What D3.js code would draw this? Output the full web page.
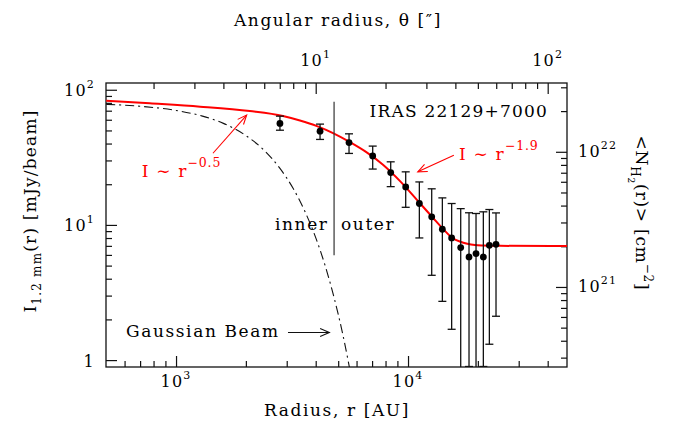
<!DOCTYPE html>
<html><head><meta charset="utf-8">
<script src="https://cdn.jsdelivr.net/npm/d3@7"></script>
<style>
html,body{margin:0;padding:0;background:#fff;}
svg{display:block;}
text{font-family:"DejaVu Serif",serif;}
</style></head><body>
<svg id="c" width="677" height="432"></svg>
<script>
// ---------- data ----------
const radiusAU   = [2805, 4176, 5568, 7043, 8421, 9772, 11190, 12650, 14060, 15420, 16870, 18320, 19640, 21120, 22420, 23950];
const intensity  = [56.4, 49.4, 40.7, 32.4, 24.4, 19.1, 14.4, 11.47, 9.29, 8.01, 6.80, 5.80, 6.14, 5.80, 7.07, 7.19];
const errUpper   = [63.8, 55.7, 47.2, 38.3, 29.3, 24.7, 20.8, 18.5, 15.85, 14.4, 13.2, 12.3, 12.15, 12.5, 13.0, 12.27];
const errLower   = [50.2, 42.9, 33.8, 25.9, 19.2, 13.5, 8.01, 4.24, 2.72, 1.69, 0, 0.89, 0, 0.89, 1.31, 2.11];

const modelRadius    = [500, 770, 1270, 2080, 2890, 3420, 4050, 4750, 5620, 6660, 7800, 9240, 10900, 12800, 14200, 15600, 16800, 18000, 19400, 21100, 24900, 48500];
const modelIntensity = [82.9, 79.3, 75.0, 69.5, 63.9, 59.2, 53.8, 47.8, 41.0, 34.3, 27.9, 21.1, 15.4, 11.3, 9.29, 7.97, 7.51, 7.26, 7.10, 7.04, 7.00, 6.99];

const beamRadius    = [500, 700, 1000, 1300, 1600, 2000, 2400, 2800, 3200, 3600, 4000, 4400, 4800, 5200, 5500, 5700];
const beamIntensity = [78.0, 75.5, 70.3, 63.8, 56.4, 45.8, 35.6, 26.3, 18.6, 12.5, 8.06, 4.95, 2.90, 1.63, 1.02, 0.74];

const bottomTickExp = [3, 4];
const topTickExp    = [1, 2];
const leftTickValues = [1, 10, 100];
const leftTickExp    = [null, 1, 2];
const rightTickExp   = [21, 22];

const distancePc   = 400;        // AU per arcsec
const columnFactor = 2.877e20;   // cm^-2 per mJy/beam
const innerOuterR  = 4800;

// ---------- layout ----------
const X0 = 106, X1 = 567, Y0 = 83, Y1 = 367;
const svg = d3.select("#c");

const x = d3.scaleLog().domain([499, 48450]).range([X0, X1]);
const y = d3.scaleLog().domain([0.889, 112.2]).range([Y1, Y0]);
const xTop = d3.scaleLog().domain(x.domain().map(d => d / distancePc)).range([X0, X1]);
const yRight = d3.scaleLog().domain(y.domain().map(d => d * columnFactor)).range([Y1, Y0]);

const isMajor = v => Math.abs(Math.log10(v) - Math.round(Math.log10(v))) < 1e-6;

svg.append("defs").append("clipPath").attr("id", "clip")
  .append("rect").attr("x", X0).attr("y", Y0).attr("width", X1 - X0).attr("height", Y1 - Y0);

// ---------- ticks ----------
function ticksFor(scale, axisFn, transform) {
  const [r0, r1] = scale.range().slice().sort((a, b) => a - b);
  const vals = scale.ticks().filter(v => { const p = scale(v); return p > r0 + 2 && p < r1 - 2; });
  const major = vals.filter(isMajor), minor = vals.filter(v => !isMajor(v));
  [[minor, 6], [major, 11]].forEach(([tv, len]) => {
    const g = svg.append("g").attr("transform", transform)
      .call(axisFn(scale).tickValues(tv).tickSize(-len).tickFormat(""));
    g.select(".domain").remove();
    g.selectAll("line").attr("stroke", "#111").attr("stroke-width", 1.2);
  });
}
ticksFor(x, d3.axisBottom, `translate(0,${Y1})`);
ticksFor(xTop, d3.axisTop, `translate(0,${Y0})`);
ticksFor(y, d3.axisLeft, `translate(${X0},0)`);
ticksFor(yRight, d3.axisRight, `translate(${X1},0)`);

svg.append("rect").attr("x", X0).attr("y", Y0).attr("width", X1 - X0).attr("height", Y1 - Y0)
  .attr("fill", "none").attr("stroke", "#111").attr("stroke-width", 1.3);

// ---------- tick labels ----------
function powLabel(sel, base, exp, supSize, supDy) {
  sel.append("tspan").text(base);
  if (exp !== null && exp !== undefined)
    sel.append("tspan").attr("dy", supDy).attr("font-size", supSize).text(exp);
}
const tickFont = 16, tickLs = 1.2;
bottomTickExp.forEach(e => {
  const t = svg.append("text").attr("x", x(Math.pow(10, e))).attr("y", 387)
    .attr("text-anchor", "middle").attr("font-size", tickFont).attr("letter-spacing", tickLs);
  powLabel(t, "10", e, 11, -8);
});
topTickExp.forEach(e => {
  const t = svg.append("text").attr("x", xTop(Math.pow(10, e))).attr("y", 66)
    .attr("text-anchor", "middle").attr("font-size", tickFont).attr("letter-spacing", tickLs);
  powLabel(t, "10", e, 11, -8);
});
leftTickValues.forEach((v, i) => {
  const t = svg.append("text").attr("x", 95).attr("y", y(v) + 6.5)
    .attr("text-anchor", "end").attr("font-size", tickFont).attr("letter-spacing", tickLs);
  if (leftTickExp[i] === null) t.text(String(v));
  else powLabel(t, "10", leftTickExp[i], 11, -8);
});
rightTickExp.forEach(e => {
  const t = svg.append("text").attr("x", 578).attr("y", yRight(Math.pow(10, e)) + 5)
    .attr("text-anchor", "start").attr("font-size", tickFont).attr("letter-spacing", tickLs);
  powLabel(t, "10", e, 11, -8);
});

// ---------- axis titles ----------
const base = {size: 17, ls: 1.6};
svg.append("text").attr("x", 337).attr("y", 416).attr("text-anchor", "middle")
  .attr("font-size", base.size).attr("letter-spacing", base.ls).text("Radius, r [AU]");
svg.append("text").attr("x", 338).attr("y", 26).attr("text-anchor", "middle")
  .attr("font-size", base.size).attr("letter-spacing", base.ls).text("Angular radius, θ [″]");

const lt = svg.append("text").attr("transform", "translate(36,211) rotate(-90)")
  .attr("text-anchor", "middle").attr("font-size", base.size).attr("letter-spacing", 1.2);
lt.append("tspan").text("I");
lt.append("tspan").attr("dy", 5).attr("font-size", 12).text("1.2 mm");
lt.append("tspan").attr("dy", -5).text("(r) [mJy/beam]");

const rt = svg.append("text").attr("transform", "translate(636,213) rotate(90)")
  .attr("text-anchor", "middle").attr("font-size", base.size).attr("letter-spacing", 0.8);
rt.append("tspan").text("<N");
rt.append("tspan").attr("dy", 5).attr("font-size", 12).text("H");
rt.append("tspan").attr("dy", 3).attr("font-size", 9).text("2");
rt.append("tspan").attr("dy", -8).text("(r)> [cm");
rt.append("tspan").attr("dy", -8).attr("font-size", 12).text("−2");
rt.append("tspan").attr("dy", 8).text("]");

// ---------- curves ----------
const plot = svg.append("g").attr("clip-path", "url(#clip)");
const line = d3.line().x(d => x(d[0])).y(d => y(d[1])).curve(d3.curveMonotoneX);

plot.append("path").datum(d3.zip(beamRadius, beamIntensity)).attr("d", line)
  .attr("fill", "none").attr("stroke", "#111").attr("stroke-width", 1.1)
  .attr("stroke-dasharray", "9,4,2,4");

plot.append("path").datum(d3.zip(modelRadius, modelIntensity)).attr("d", line)
  .attr("fill", "none").attr("stroke", "#ff0000").attr("stroke-width", 2);

// inner / outer divider
svg.append("line").attr("x1", x(innerOuterR)).attr("x2", x(innerOuterR))
  .attr("y1", y(81.5)).attr("y2", y(5.97)).attr("stroke", "#333").attr("stroke-width", 1.2);

// ---------- data points with error bars ----------
const pts = radiusAU.map((r, i) => ({r, v: intensity[i], hi: errUpper[i], lo: errLower[i]}));
const eb = plot.append("g").attr("stroke", "#111").attr("stroke-width", 1.3);
pts.forEach(p => {
  const px = x(p.r);
  const yLo = p.lo > 0 ? y(p.lo) : Y1 + 5;
  eb.append("line").attr("x1", px).attr("x2", px).attr("y1", y(p.hi)).attr("y2", yLo);
  eb.append("line").attr("x1", px - 4).attr("x2", px + 4).attr("y1", y(p.hi)).attr("y2", y(p.hi));
  if (p.lo > 0)
    eb.append("line").attr("x1", px - 4).attr("x2", px + 4).attr("y1", Math.min(yLo, Y1 - 0.5)).attr("y2", Math.min(yLo, Y1 - 0.5));
});
plot.append("g").selectAll("circle").data(pts).join("circle")
  .attr("cx", d => x(d.r)).attr("cy", d => y(d.v)).attr("r", 3.4).attr("fill", "#000");

// ---------- annotations ----------
function arrow(r1, i1, r2, i2, color) {
  const xa = x(r1), ya = y(i1), xb = x(r2), yb = y(i2);
  const ang = Math.atan2(yb - ya, xb - xa), L = 10, w = 0.4;
  const g = svg.append("g").attr("stroke", color).attr("stroke-width", 1.1).attr("fill", "none");
  g.append("line").attr("x1", xa).attr("y1", ya).attr("x2", xb).attr("y2", yb);
  g.append("path").attr("d",
    `M${xb - L * Math.cos(ang - w)},${yb - L * Math.sin(ang - w)}L${xb},${yb}L${xb - L * Math.cos(ang + w)},${yb - L * Math.sin(ang + w)}`);
}
arrow(1443, 33.9, 2016, 65.0, "#ff0000");
arrow(15758, 32.8, 11019, 24.7, "#ff0000");
arrow(3038, 1.60, 4579, 1.60, "#111");

svg.append("text").attr("x", 548).attr("y", 116.7).attr("text-anchor", "end")
  .attr("font-size", base.size).attr("letter-spacing", 1.2).text("IRAS 22129+7000");
svg.append("text").attr("x", 275).attr("y", 230)
  .attr("font-size", base.size).attr("letter-spacing", base.ls).text("inner");
svg.append("text").attr("x", 341).attr("y", 230)
  .attr("font-size", base.size).attr("letter-spacing", base.ls).text("outer");
svg.append("text").attr("x", 126).attr("y", 337.3)
  .attr("font-size", base.size).attr("letter-spacing", base.ls).text("Gaussian Beam");

function powerText(x0, y0, exp) {
  const t = svg.append("text").attr("x", x0).attr("y", y0).attr("fill", "#ff0000")
    .attr("font-size", base.size).attr("letter-spacing", 1.2);
  t.append("tspan").text("I ∼ r");
  t.append("tspan").attr("dy", -10).attr("font-size", 12.5).attr("letter-spacing", 0.8).text(exp);
}
powerText(141.7, 176.7, "−0.5");
powerText(459, 160, "−1.9");
</script>
</body></html>
